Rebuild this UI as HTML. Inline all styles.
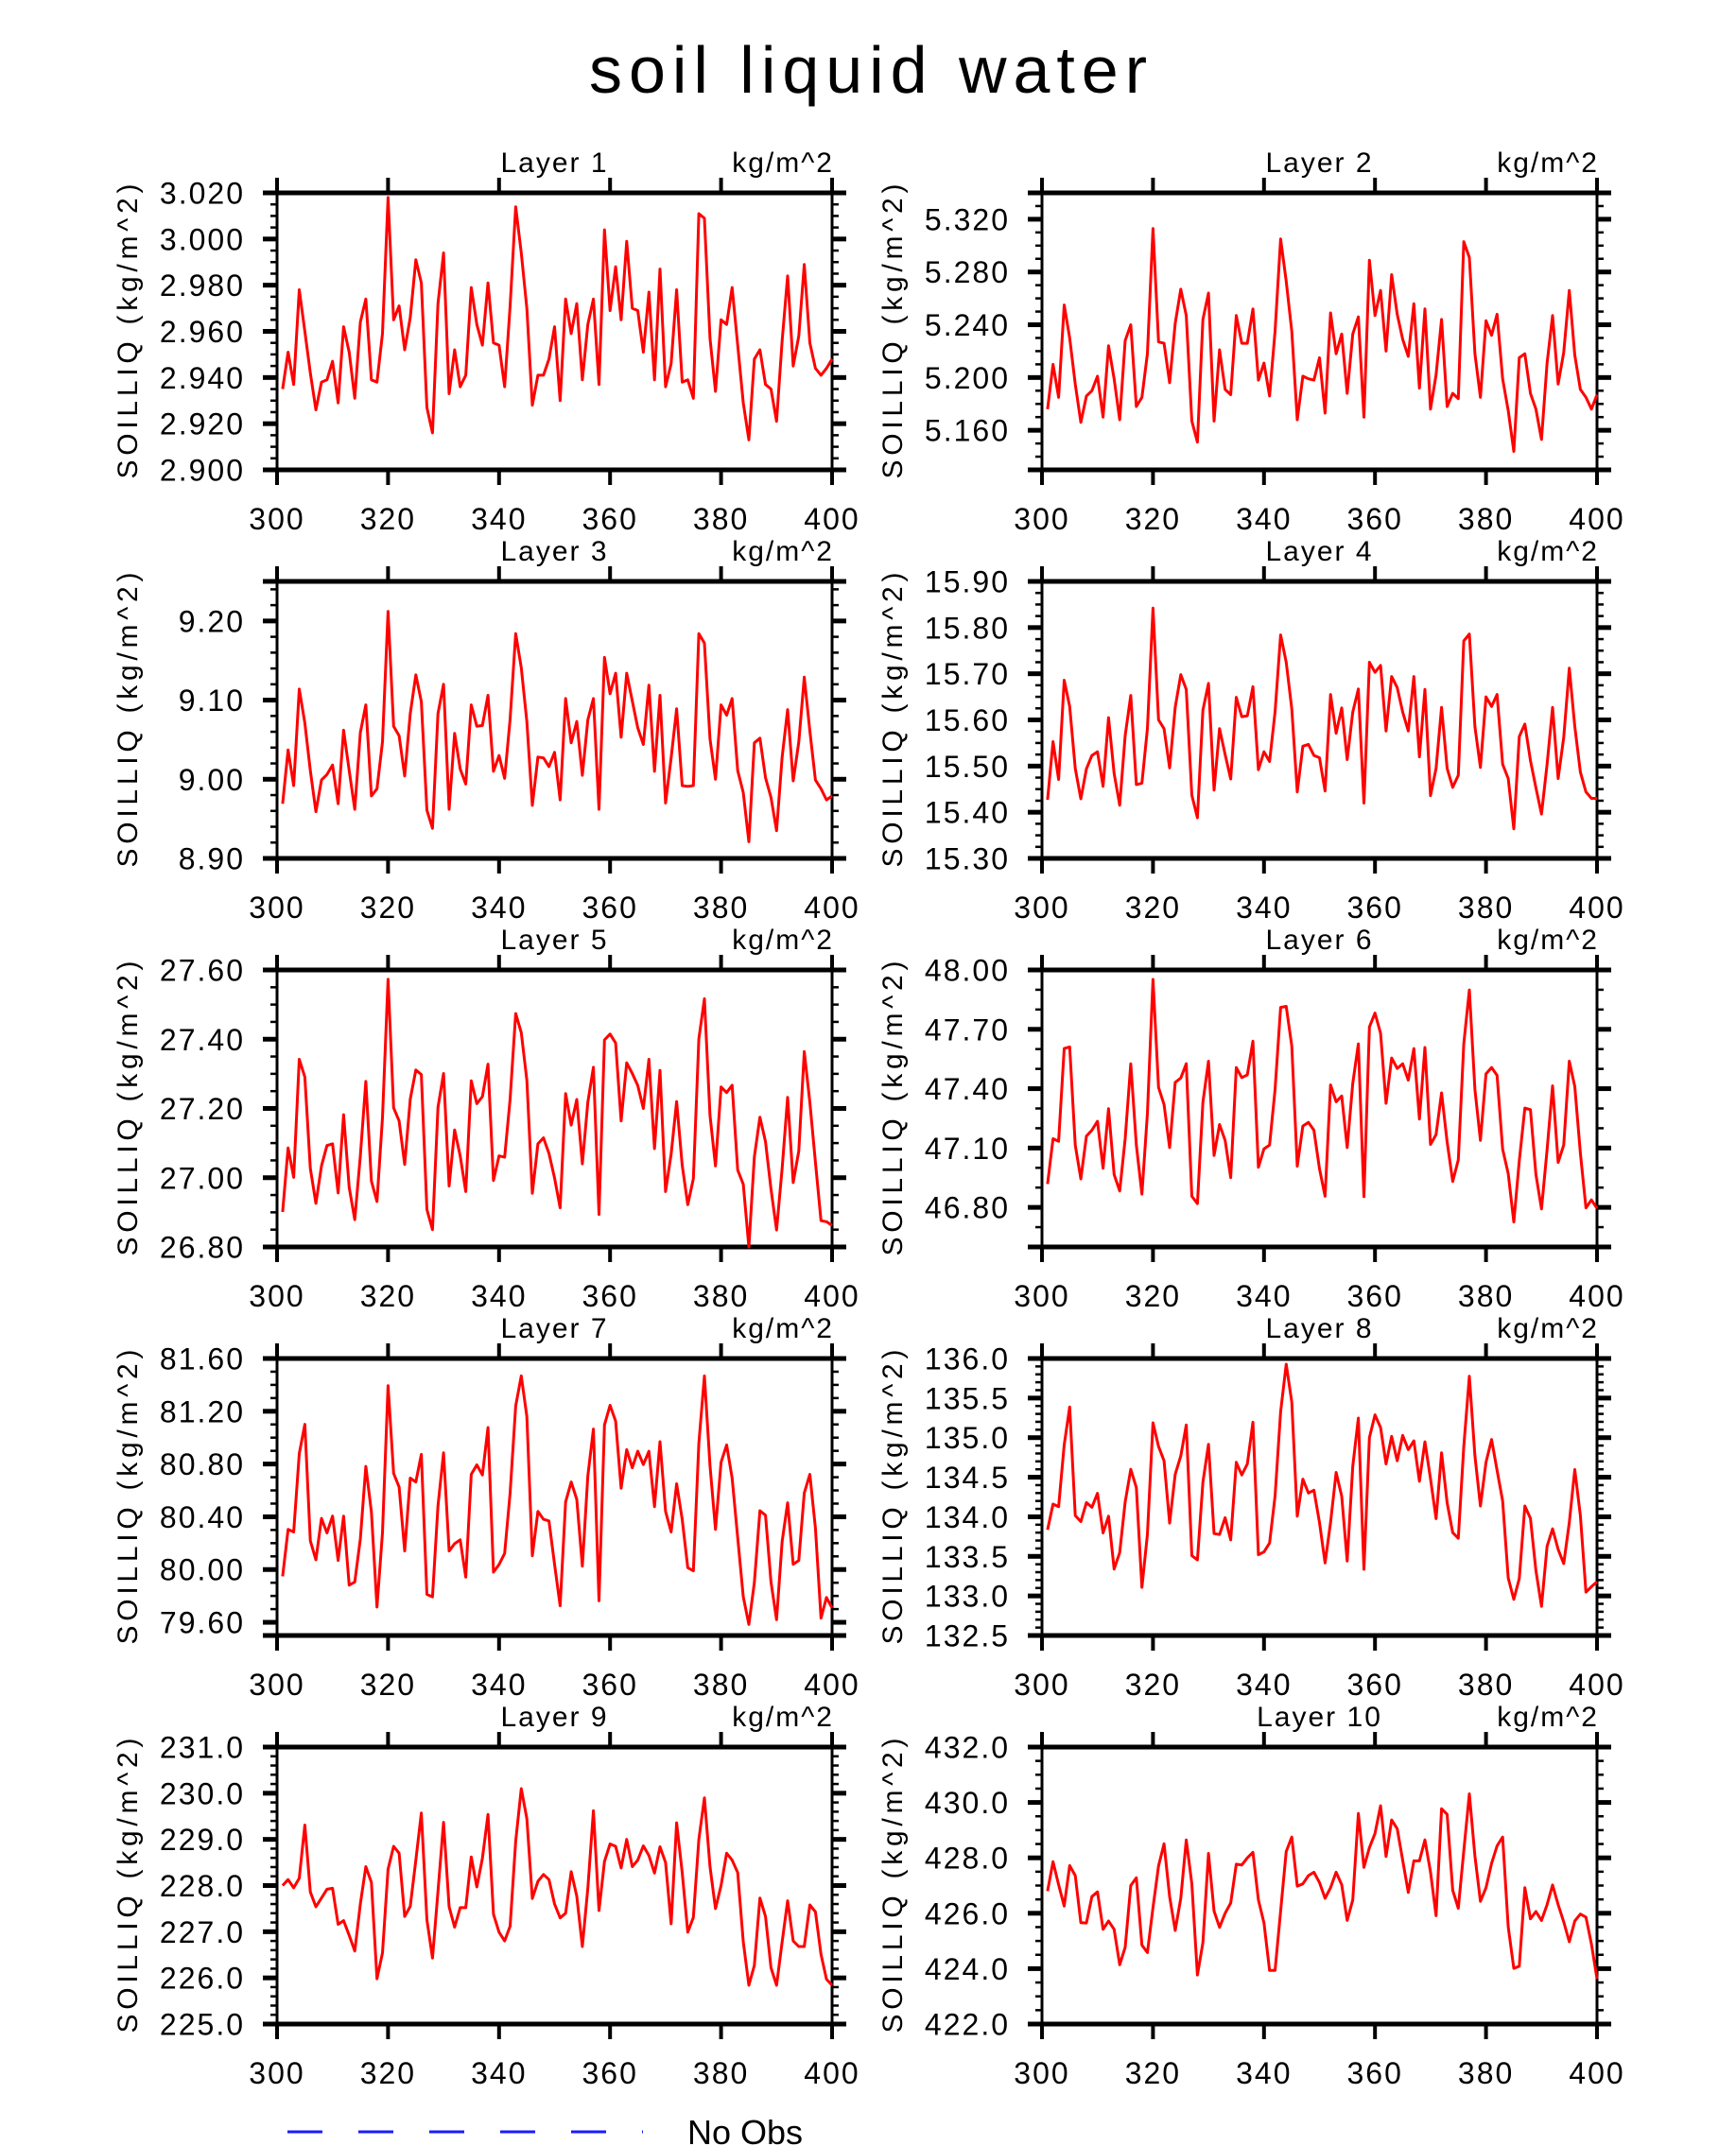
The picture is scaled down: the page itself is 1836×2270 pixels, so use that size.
<!DOCTYPE html>
<html><head><meta charset="utf-8"><title>soil liquid water</title>
<style>
html,body{margin:0;padding:0;background:#fff;}
svg{display:block;font-family:"Liberation Sans",sans-serif;}
</style></head>
<body>
<svg id="chart" width="1836" height="2270" viewBox="0 0 1836 2270" xmlns="http://www.w3.org/2000/svg">
<rect width="1836" height="2270" fill="#fff"/>
<text x="918" y="98" text-anchor="middle" font-size="70" textLength="590" lengthAdjust="spacing" fill="#000">soil liquid water</text>
<g>
<line x1="304" y1="2255" x2="680" y2="2255" stroke="#1a1aff" stroke-width="3" stroke-dasharray="37 38"/>
<text x="727" y="2268" font-size="36" fill="#000">No Obs</text>
</g>
<g id="panels"></g>
</svg>
<script>
const xTicks = [300,320,340,360,380,400];
const layerNames = ["Layer 1","Layer 2","Layer 3","Layer 4","Layer 5","Layer 6","Layer 7","Layer 8","Layer 9","Layer 10"];
const yMins = [2.900,5.130,8.90,15.30,26.80,46.60,79.50,132.5,225.0,422.0];
const yMaxs = [3.020,5.340,9.25,15.90,27.60,48.00,81.60,136.0,231.0,432.0];
const yMajorStart = [2.900,5.160,8.90,15.30,26.80,46.80,79.60,132.5,225.0,422.0];
const yMajorSteps = [0.02,0.04,0.1,0.1,0.2,0.3,0.4,0.5,1.0,2.0];
const yMinorSteps = [0.005,0.01,0.02,0.025,0.05,0.1,0.1,0.1,0.2,0.5];
const yDecimals = [3,3,2,2,2,2,2,1,1,1];
const xStart = 301;

const layer1 = [2.935,2.951,2.937,2.978,2.960,2.942,2.926,2.938,2.939,2.947,2.929,2.962,2.951,2.931,2.964,2.974,2.939,2.938,2.959,3.018,2.965,2.971,2.952,2.966,2.991,2.981,2.927,2.916,2.972,2.994,2.933,2.952,2.936,2.941,2.979,2.963,2.954,2.981,2.955,2.954,2.936,2.971,3.014,2.994,2.970,2.928,2.941,2.941,2.948,2.962,2.930,2.974,2.959,2.972,2.939,2.963,2.974,2.937,3.004,2.969,2.988,2.965,2.999,2.970,2.969,2.951,2.977,2.939,2.987,2.936,2.946,2.978,2.938,2.939,2.931,3.011,3.009,2.957,2.934,2.965,2.963,2.979,2.954,2.929,2.913,2.948,2.952,2.937,2.935,2.921,2.956,2.984,2.945,2.958,2.989,2.955,2.944,2.941,2.944,2.948];
const layer2 = [5.176,5.210,5.185,5.255,5.230,5.195,5.166,5.186,5.190,5.201,5.170,5.224,5.199,5.168,5.228,5.240,5.178,5.185,5.218,5.313,5.227,5.226,5.196,5.241,5.267,5.247,5.167,5.151,5.244,5.264,5.167,5.221,5.191,5.187,5.247,5.226,5.226,5.252,5.198,5.211,5.186,5.235,5.305,5.273,5.235,5.168,5.201,5.199,5.198,5.215,5.173,5.249,5.218,5.233,5.188,5.233,5.246,5.170,5.289,5.247,5.266,5.220,5.278,5.248,5.229,5.216,5.256,5.192,5.252,5.176,5.202,5.244,5.178,5.188,5.184,5.303,5.291,5.218,5.185,5.243,5.232,5.248,5.199,5.175,5.144,5.215,5.218,5.188,5.176,5.153,5.211,5.247,5.195,5.219,5.266,5.217,5.191,5.185,5.176,5.187];
const layer3 = [8.969,9.037,8.992,9.114,9.071,9.011,8.959,8.999,9.006,9.018,8.969,9.062,9.011,8.962,9.059,9.094,8.979,8.988,9.047,9.212,9.067,9.055,9.004,9.083,9.132,9.098,8.961,8.938,9.083,9.120,8.962,9.058,9.013,8.994,9.094,9.067,9.068,9.106,9.010,9.030,9.001,9.076,9.184,9.141,9.073,8.967,9.028,9.027,9.016,9.034,8.974,9.102,9.046,9.073,9.005,9.075,9.102,8.962,9.154,9.108,9.134,9.053,9.134,9.099,9.065,9.044,9.119,9.010,9.106,8.970,9.027,9.089,8.992,8.991,8.992,9.184,9.172,9.051,9.000,9.094,9.081,9.102,9.011,8.983,8.921,9.046,9.052,9.002,8.977,8.935,9.028,9.088,8.998,9.047,9.129,9.061,8.999,8.988,8.974,8.979];
const layer4 = [15.427,15.553,15.471,15.686,15.629,15.495,15.429,15.494,15.523,15.531,15.456,15.605,15.484,15.415,15.566,15.653,15.460,15.463,15.581,15.842,15.600,15.581,15.496,15.627,15.698,15.666,15.437,15.388,15.621,15.679,15.448,15.581,15.525,15.472,15.649,15.607,15.609,15.672,15.492,15.531,15.510,15.617,15.784,15.725,15.624,15.444,15.543,15.547,15.523,15.518,15.446,15.655,15.571,15.626,15.514,15.617,15.667,15.420,15.725,15.703,15.718,15.576,15.694,15.670,15.617,15.576,15.694,15.520,15.666,15.436,15.495,15.627,15.495,15.454,15.480,15.771,15.786,15.585,15.497,15.650,15.629,15.655,15.504,15.473,15.364,15.564,15.591,15.512,15.453,15.396,15.504,15.627,15.473,15.562,15.712,15.586,15.487,15.444,15.430,15.430];
const layer5 = [26.901,27.086,27.001,27.342,27.291,27.027,26.926,27.034,27.093,27.098,26.956,27.182,26.972,26.879,27.063,27.278,26.990,26.931,27.173,27.573,27.202,27.164,27.038,27.227,27.311,27.298,26.908,26.850,27.203,27.301,26.976,27.138,27.063,26.960,27.280,27.214,27.234,27.328,26.992,27.063,27.059,27.227,27.474,27.419,27.282,26.955,27.098,27.115,27.070,26.999,26.913,27.243,27.152,27.226,27.040,27.218,27.319,26.894,27.398,27.415,27.389,27.164,27.332,27.301,27.266,27.200,27.342,27.084,27.310,26.960,27.068,27.220,27.036,26.922,26.997,27.401,27.517,27.180,27.034,27.262,27.246,27.267,27.022,26.981,26.800,27.060,27.175,27.104,26.967,26.849,27.027,27.232,26.986,27.077,27.364,27.218,27.045,26.876,26.873,26.862];
const layer6 = [46.918,47.147,47.134,47.603,47.611,47.115,46.944,47.160,47.190,47.235,46.998,47.299,46.966,46.883,47.147,47.526,47.115,46.867,47.275,47.952,47.406,47.320,47.102,47.432,47.454,47.526,46.856,46.819,47.331,47.539,47.062,47.219,47.139,46.950,47.507,47.456,47.470,47.640,47.003,47.096,47.115,47.395,47.811,47.816,47.616,47.008,47.211,47.230,47.190,46.995,46.856,47.419,47.334,47.363,47.102,47.427,47.627,46.854,47.712,47.782,47.680,47.326,47.555,47.502,47.526,47.443,47.603,47.246,47.608,47.118,47.168,47.379,47.131,46.931,47.040,47.627,47.899,47.395,47.139,47.475,47.507,47.467,47.094,46.971,46.726,47.035,47.302,47.294,46.966,46.792,47.091,47.414,47.027,47.115,47.539,47.411,47.075,46.798,46.838,46.795];
const layer7 = [79.949,80.304,80.285,80.878,81.101,80.218,80.074,80.388,80.278,80.405,80.069,80.405,79.882,79.906,80.232,80.782,80.436,79.716,80.278,81.394,80.729,80.626,80.141,80.693,80.664,80.873,79.812,79.793,80.482,80.885,80.141,80.196,80.225,79.942,80.722,80.794,80.717,81.077,79.980,80.038,80.122,80.580,81.240,81.468,81.161,80.105,80.441,80.381,80.369,80.040,79.726,80.513,80.664,80.532,80.026,80.710,81.065,79.764,81.096,81.245,81.125,80.616,80.909,80.772,80.897,80.796,80.897,80.477,80.969,80.441,80.285,80.650,80.381,80.014,79.990,80.957,81.468,80.789,80.304,80.813,80.945,80.693,80.242,79.793,79.584,79.901,80.446,80.412,79.906,79.620,80.213,80.506,80.040,80.069,80.580,80.722,80.314,79.632,79.788,79.709];
const layer8 = [133.836,134.160,134.128,134.908,135.388,134.016,133.940,134.180,134.120,134.296,133.796,134.008,133.340,133.548,134.188,134.600,134.368,133.108,133.776,135.188,134.888,134.708,133.920,134.536,134.768,135.160,133.508,133.456,134.436,134.916,133.788,133.776,133.988,133.708,134.688,134.528,134.668,135.196,133.520,133.556,133.668,134.260,135.328,135.928,135.448,134.008,134.476,134.300,134.336,133.928,133.416,133.928,134.560,134.260,133.440,134.640,135.248,133.336,135.000,135.288,135.128,134.668,135.016,134.708,135.028,134.848,134.960,134.448,134.948,134.480,133.976,134.808,134.176,133.800,133.728,134.888,135.776,134.768,134.136,134.688,134.976,134.588,134.200,133.228,132.956,133.220,134.136,133.980,133.320,132.868,133.628,133.848,133.588,133.408,133.928,134.596,134.016,133.048,133.116,133.180];
const layer9 = [228.00,228.13,227.95,228.16,229.31,227.86,227.54,227.73,227.92,227.94,227.16,227.24,226.92,226.58,227.60,228.41,228.07,225.98,226.54,228.35,228.85,228.70,227.33,227.55,228.55,229.57,227.26,226.43,227.87,229.37,227.54,227.10,227.52,227.52,228.62,227.97,228.59,229.54,227.38,226.99,226.80,227.12,228.96,230.10,229.45,227.72,228.09,228.24,228.13,227.60,227.30,227.40,228.30,227.77,226.68,227.94,229.62,227.46,228.52,228.90,228.85,228.38,229.00,228.41,228.55,228.86,228.65,228.27,228.84,228.50,227.17,229.36,228.28,226.99,227.31,229.00,229.90,228.41,227.50,228.00,228.70,228.55,228.28,226.78,225.84,226.27,227.73,227.33,226.22,225.84,226.78,227.67,226.80,226.68,226.68,227.58,227.43,226.51,225.97,225.84];
const layer10 = [426.80,427.86,427.03,426.26,427.72,427.36,425.66,425.65,426.60,426.77,425.42,425.72,425.42,424.14,424.77,427.00,427.28,424.85,424.58,426.20,427.71,428.51,426.60,425.38,426.54,428.65,427.06,423.77,424.94,428.16,426.08,425.49,426.00,426.37,427.77,427.74,428.00,428.20,426.48,425.65,423.94,423.94,426.08,428.23,428.75,426.98,427.06,427.36,427.48,427.11,426.54,426.92,427.48,427.03,425.74,426.48,429.60,427.66,428.37,428.88,429.88,428.05,429.37,429.05,427.91,426.75,427.89,427.89,428.65,427.49,425.91,429.77,429.57,426.83,426.18,428.25,430.31,428.06,426.43,426.92,427.80,428.43,428.75,425.51,424.01,424.09,426.92,425.80,426.06,425.74,426.31,427.02,426.31,425.69,424.97,425.72,425.97,425.86,424.89,423.63];
const layerSeries = [layer1,layer2,layer3,layer4,layer5,layer6,layer7,layer8,layer9,layer10];

const NS = "http://www.w3.org/2000/svg";
const root = document.getElementById("panels");
function mk(tag, attrs, parent){
  const e = document.createElementNS(NS, tag);
  for (const k in attrs) e.setAttribute(k, attrs[k]);
  parent.appendChild(e);
  return e;
}
const PW = 587, PH = 293;
const colX = [293, 1102];
for (let p = 0; p < 10; p++) {
  const col = p % 2, row = Math.floor(p / 2);
  const L = colX[col], T = 204 + row * 411, R = L + PW, B = T + PH;
  const yMin = yMins[p], yMax = yMaxs[p];
  const xs = v => L + (v - 300) / 100 * PW;
  const ys = v => B - (v - yMin) / (yMax - yMin) * PH;
  const g = mk("g", {}, root);
  
  

  // minor y ticks
  const mstep = yMinorSteps[p];
  for (let k = Math.ceil((yMin - 1e-9) / mstep); k * mstep <= yMax + 1e-9; k++) {
    const y = ys(k * mstep);
    const t1 = mk("line", {x1: L - 7, y1: y, x2: L, y2: y, stroke: "#000", "stroke-width": 2.5}, g);
    
    
    const t2 = mk("line", {x1: R, y1: y, x2: R + 7, y2: y, stroke: "#000", "stroke-width": 2.5}, g);
    
    
  }
  // major y ticks + labels
  const step = yMajorSteps[p];
  for (let k = 0; ; k++) {
    const v = yMajorStart[p] + k * step;
    if (v > yMax + 1e-9) break;
    const y = ys(v);
    const a = mk("line", {x1: L - 15, y1: y, x2: L, y2: y, stroke: "#000", "stroke-width": 5}, g);
    
    
    const b = mk("line", {x1: R, y1: y, x2: R + 15, y2: y, stroke: "#000", "stroke-width": 5}, g);
    
    
    const t = mk("text", {x: L - 34, y: y + 11.5, "text-anchor": "end", "font-size": 32, "letter-spacing": 2, fill: "#000"}, g);
    
    
    t.textContent = v.toFixed(yDecimals[p]);
  }
  // x ticks + labels
  xTicks.forEach(v => {
    const x = xs(v);
    const a = mk("line", {x1: x, y1: T - 16, x2: x, y2: T, stroke: "#000", "stroke-width": 4}, g);
    
    
    const b = mk("line", {x1: x, y1: B, x2: x, y2: B + 16, stroke: "#000", "stroke-width": 4}, g);
    
    
    const t = mk("text", {x: x, y: B + 63, "text-anchor": "middle", "font-size": 32, "letter-spacing": 2, fill: "#000"}, g);
    
    
    t.textContent = String(v);
  });
  // frame
  const fl = mk("line", {x1: L, y1: T, x2: L, y2: B, stroke: "#000", "stroke-width": 3}, g);
  
  
  const fr = mk("line", {x1: R, y1: T, x2: R, y2: B, stroke: "#000", "stroke-width": 3}, g);
  
  
  const ft = mk("line", {x1: L - 15, y1: T, x2: R + 15, y2: T, stroke: "#000", "stroke-width": 5}, g);
  
  
  const fb = mk("line", {x1: L - 15, y1: B, x2: R + 15, y2: B, stroke: "#000", "stroke-width": 5}, g);
  
  

  // series
  const data = layerSeries[p];
  let d = "";
  data.forEach((v, i) => { d += (i ? "L" : "M") + xs(xStart + i).toFixed(1) + "," + ys(v).toFixed(1); });
  const path = mk("path", {d: d, fill: "none", stroke: "#ff0000", "stroke-width": 3, "stroke-linejoin": "round"}, g);
  
  

  // titles
  const lt = mk("text", {x: (L + R) / 2, y: T - 22, "text-anchor": "middle", "font-size": 30, "letter-spacing": 2, fill: "#000"}, g);
  
  
  lt.textContent = layerNames[p];
  const ut = mk("text", {x: R + 2, y: T - 22, "text-anchor": "end", "font-size": 30, "letter-spacing": 2, fill: "#000"}, g);
  
  
  ut.textContent = "kg/m^2";
  const cx = L - 148, cy = (T + B) / 2;
  const yt = mk("text", {x: cx, y: cy, "text-anchor": "middle", "font-size": 30, textLength: 312, lengthAdjust: "spacing", transform: "rotate(-90 " + cx + " " + cy + ")", fill: "#000"}, g);
  
  
  yt.textContent = "SOILLIQ   (kg/m^2)";
}
</script>
</body></html>
